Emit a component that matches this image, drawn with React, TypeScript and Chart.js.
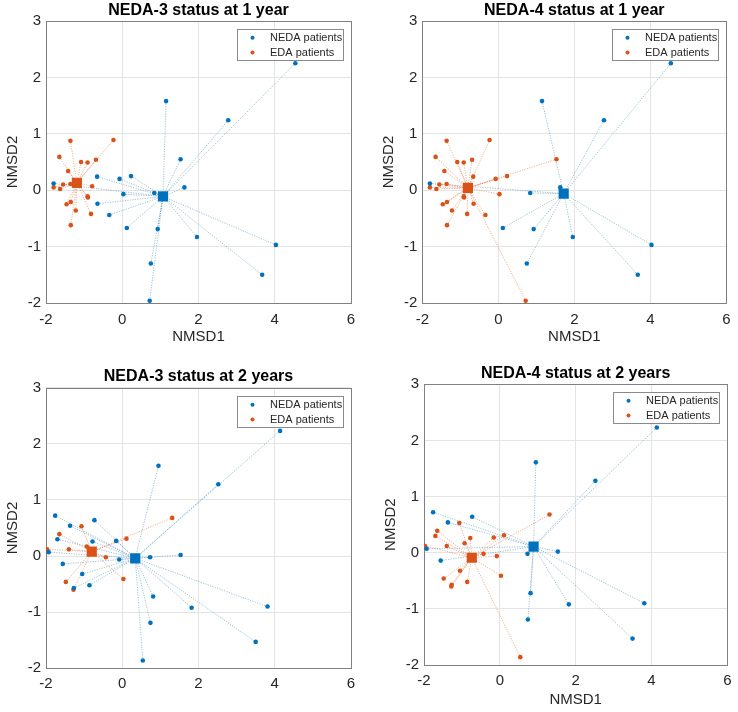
import React, { useEffect, useRef } from "react";
import { Chart, registerables } from "chart.js";
Chart.register(...registerables);

const FONT = '"Liberation Sans", Arial, Helvetica, sans-serif';

const seriesNames = ["NEDA patients", "EDA patients"];
const seriesColors = ["#0072BD", "#D95319"];
const spokeColors = ["rgba(40,120,170,0.5)", "rgba(217,83,25,0.5)"];
const xTickValues = [-2, 0, 2, 4, 6];
const yTickValues = [-2, -1, 0, 1, 2, 3];
const xAxisName = "NMSD1";
const yAxisName = "NMSD2";
const panelTitles = [
  "NEDA-3 status at 1 year",
  "NEDA-4 status at 1 year",
  "NEDA-3 status at 2 years",
  "NEDA-4 status at 2 years",
];

// Year 1 patients (NMSD1, NMSD2)
const year1X = [4.54, 1.15, 2.78, 1.53, 1.63, -0.66, -0.07, 0.23, 0.03, 0.84, -0.65, -0.34, 0.12, 0.93, 1.96, 4.03, 3.67, 0.75, 0.72, -1.8,
  -1.36, -0.23, -1.65, -1.08, -0.91, -0.69, -1.42, -1.8, -1.63, -1.55, -1.36, -0.79, -0.91, -0.9, -1.46, -1.35, -1.22, -0.82, -1.35];
const year1Y = [2.25, 1.58, 1.24, 0.55, 0.05, 0.24, 0.2, 0.25, -0.07, -0.05, -0.24, -0.44, -0.67, -0.69, -0.83, -0.97, -1.5, -1.3, -1.96, 0.12,
  0.875, 0.89, 0.59, 0.5, 0.49, 0.54, 0.34, 0.05, 0.02, 0.1, 0.11, 0.07, -0.11, -0.13, -0.25, -0.21, -0.36, -0.42, -0.62];
// 1 = NEDA, 0 = EDA
const neda3Year1 = [1, 1, 1, 1, 1, 1, 1, 1, 1, 1, 1, 1, 1, 1, 1, 1, 1, 1, 1, 1,
  0, 0, 0, 0, 0, 0, 0, 0, 0, 0, 0, 0, 0, 0, 0, 0, 0, 0, 0];
const neda4Year1 = [1, 1, 1, 0, 1, 0, 0, 0, 0, 1, 0, 0, 1, 1, 1, 1, 1, 1, 0, 1,
  0, 0, 0, 0, 0, 0, 0, 0, 0, 0, 0, 0, 0, 0, 0, 0, 0, 0, 0];

// Year 2 patients
const year2X = [4.14, 0.95, 2.52, -1.76, -1.37, -0.73, -1.7, -0.78, -0.16, -1.93, -1.56, -0.08, 0.73, 1.53, -1.05, -1.27, -0.86, 0.81, 1.82, 3.81, 0.74, 3.5, 0.54,
  1.31, -1.07, -1.65, 0.11, -1.97, -1.4, -0.93, -0.43, 0.03, -1.48, -1.28];
const year2Y = [2.23, 1.61, 1.28, 0.72, 0.54, 0.64, 0.3, 0.26, 0.27, 0.07, -0.14, -0.06, -0.02, 0.02, -0.32, -0.57, -0.52, -0.72, -0.92, -0.9, -1.19, -1.53, -1.86,
  0.68, 0.53, 0.39, 0.31, 0.12, 0.12, 0.17, -0.02, -0.41, -0.46, -0.6];
const neda3Year2 = [1, 1, 1, 1, 1, 1, 1, 1, 1, 1, 1, 1, 1, 1, 1, 1, 1, 1, 1, 1, 1, 1, 1,
  0, 0, 0, 0, 0, 0, 0, 0, 0, 0, 0];
const neda4Year2 = [1, 1, 1, 1, 1, 1, 0, 0, 0, 1, 1, 0, 1, 1, 0, 0, 0, 1, 1, 1, 1, 1, 0,
  0, 0, 0, 0, 0, 0, 0, 0, 0, 0, 0];

// Group centroids per panel
const centroidNedaX = [1.07, 1.72, 0.34, 0.89];
const centroidNedaY = [-0.11, -0.06, -0.04, 0.11];
const centroidEdaX = [-1.19, -0.8, -0.8, -0.74];
const centroidEdaY = [0.13, 0.04, 0.08, -0.09];

const panelData = [
  { xs: year1X, ys: year1Y, flag: neda3Year1 },
  { xs: year1X, ys: year1Y, flag: neda4Year1 },
  { xs: year2X, ys: year2Y, flag: neda3Year2 },
  { xs: year2X, ys: year2Y, flag: neda4Year2 },
];

// layout (style only)
const W = 369, H = 356;
const panelLayout = [
  { left: 0, top: 0, yW: 46, padR: 18, areaTop: 21, areaBottom: 303, yTitlePad: 3.5, xTitle: true, xTitlePadB: 10, xTickPad: 7.5 },
  { left: 369, top: 0, yW: 53.3, padR: 10, areaTop: 21, areaBottom: 303, yTitlePad: 11.3, xTitle: true, xTitlePadB: 10, xTickPad: 7.5 },
  { left: 0, top: 356, yW: 46, padR: 18, areaTop: 31.7, areaBottom: 312.3, yTitlePad: 3.5, xTitle: false, xTitlePadB: 0, xTickPad: 6.5 },
  { left: 369, top: 356, yW: 55, padR: 8, areaTop: 28.3, areaBottom: 309, yTitlePad: 13.2, xTitle: true, xTitlePadB: 3, xTickPad: 6.5 },
];

const framePlugin = {
  id: "frameBox",
  beforeDatasetsDraw(chart: any) {
    const { ctx, chartArea } = chart;
    ctx.save();
    ctx.strokeStyle = "#808080";
    ctx.lineWidth = 1;
    ctx.strokeRect(Math.round(chartArea.left) + 0.5, Math.round(chartArea.top) + 0.5,
      Math.round(chartArea.right) - Math.round(chartArea.left), Math.round(chartArea.bottom) - Math.round(chartArea.top));
    ctx.restore();
  },
};

const legendPlugin = {
  id: "boxLegend",
  afterDraw(chart: any) {
    const { ctx, chartArea } = chart;
    const w = 106, h = 31;
    const x0 = Math.round(chartArea.right - 8 - w);
    const y0 = Math.round(chartArea.top + 8);
    ctx.save();
    ctx.fillStyle = "#ffffff";
    ctx.fillRect(x0, y0, w, h);
    ctx.strokeStyle = "#8a8a8a";
    ctx.lineWidth = 1;
    ctx.strokeRect(x0 + 0.5, y0 + 0.5, w, h);
    ctx.font = `11px ${FONT}`;
    ctx.textBaseline = "middle";
    ctx.textAlign = "left";
    seriesNames.forEach((name, i) => {
      const cy = y0 + 8.7 + i * 14.8;
      ctx.fillStyle = seriesColors[i];
      ctx.beginPath();
      ctx.arc(x0 + 15.5, cy, 2, 0, Math.PI * 2);
      ctx.fill();
      ctx.fillStyle = "#262626";
      ctx.fillText(name, x0 + 33, cy);
    });
    ctx.restore();
  },
};

function buildDatasets(p: number) {
  const { xs, ys, flag } = panelData[p];
  const cx = [centroidNedaX[p], centroidEdaX[p]];
  const cy = [centroidNedaY[p], centroidEdaY[p]];
  const groups = [1, 0];
  const points: any[][] = [[], []];
  const spokes: any[][] = [[], []];
  xs.forEach((x, i) => {
    const g = flag[i] === 1 ? 0 : 1;
    points[g].push({ x, y: ys[i] });
    spokes[g].push({ x, y: ys[i] }, { x: cx[g], y: cy[g] }, { x: null, y: null });
  });
  const ds: any[] = [];
  groups.forEach((_, g) => {
    ds.push({
      label: seriesNames[g] + " spokes",
      data: spokes[g],
      showLine: true,
      spanGaps: false,
      borderColor: spokeColors[g],
      borderWidth: 0.9,
      borderDash: [1.2, 1.3],
      pointRadius: 0,
      order: 3,
    });
  });
  groups.forEach((_, g) => {
    ds.push({
      label: seriesNames[g],
      data: points[g],
      pointRadius: 2.3,
      pointStyle: "circle",
      backgroundColor: seriesColors[g],
      borderWidth: 0,
      order: 2,
    });
  });
  groups.forEach((_, g) => {
    ds.push({
      label: seriesNames[g] + " centroid",
      data: [{ x: cx[g], y: cy[g] }],
      pointRadius: 7.2,
      pointStyle: "rect",
      backgroundColor: seriesColors[g],
      borderWidth: 0,
      order: 1,
    });
  });
  return ds;
}

function Panel({ index }: { index: number }) {
  const ref = useRef<HTMLCanvasElement | null>(null);
  useEffect(() => {
    const L = panelLayout[index];
    const titleTop = L.areaTop - 19.2 - 1.2;
    const chart = new Chart(ref.current as HTMLCanvasElement, {
      type: "scatter",
      data: { datasets: buildDatasets(index) },
      plugins: [framePlugin, legendPlugin],
      options: {
        responsive: false,
        animation: false,
        events: [],
        layout: { padding: { left: 0, right: L.padR, top: 0, bottom: 0 } },
        plugins: {
          legend: { display: false },
          tooltip: { enabled: false },
          title: {
            display: true,
            text: panelTitles[index],
            fullSize: false,
            color: "#000",
            font: { family: FONT, size: 16, weight: "bold" },
            padding: { top: titleTop, bottom: 1.2 },
          },
        },
        scales: {
          x: {
            type: "linear",
            min: -2,
            max: 6,
            afterBuildTicks: (s: any) => { s.ticks = xTickValues.map((v) => ({ value: v })); },
            afterFit: (s: any) => { s.height = H - L.areaBottom; },
            ticks: { color: "#262626", font: { family: FONT, size: 15 }, padding: L.xTickPad, maxRotation: 0 },
            grid: { color: "#e4e4e4", drawTicks: false },
            border: { display: false },
            title: {
              display: L.xTitle,
              text: xAxisName,
              color: "#262626",
              font: { family: FONT, size: 15 },
              padding: { top: 0, bottom: L.xTitlePadB },
            },
          },
          y: {
            type: "linear",
            min: -2,
            max: 3,
            afterBuildTicks: (s: any) => { s.ticks = yTickValues.map((v) => ({ value: v })); },
            afterFit: (s: any) => { s.width = L.yW; },
            ticks: { color: "#262626", font: { family: FONT, size: 15 }, padding: 5 },
            grid: { color: "#e4e4e4", drawTicks: false },
            border: { display: false },
            title: {
              display: true,
              text: yAxisName,
              color: "#262626",
              font: { family: FONT, size: 15 },
              padding: { top: L.yTitlePad, bottom: 0 },
            },
          },
        },
      } as any,
    });
    return () => chart.destroy();
  }, [index]);
  const L = panelLayout[index];
  return (
    <div style={{ position: "absolute", left: L.left, top: L.top, width: W, height: H }}>
      <canvas ref={ref} width={W} height={H} style={{ width: W, height: H, display: "block" }} />
    </div>
  );
}

export default function App() {
  return (
    <div style={{ position: "absolute", left: 0, top: 0, width: 738, height: 712, background: "#fff" }}>
      {[0, 1, 2, 3].map((i) => (
        <Panel key={i} index={i} />
      ))}
    </div>
  );
}
